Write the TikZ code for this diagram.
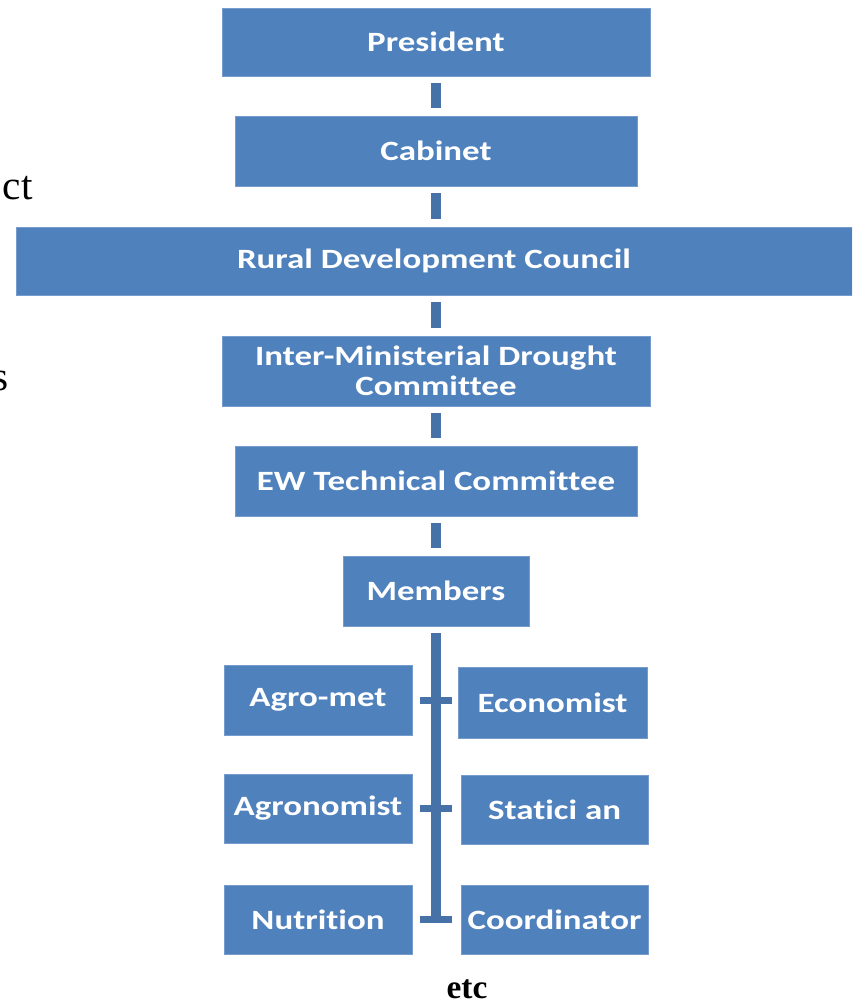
\documentclass[tikz,border=0pt]{standalone}
\usepackage{fontspec}
\usepackage{xcolor}
\usepackage{tikz}
\usetikzlibrary{positioning,calc}
\newfontfamily\boxfont{Carlito}[FakeStretch=1.25, Ligatures={NoCommon}]
\newfontfamily\pagefont{Liberation Serif}
\definecolor{OrgBlue}{RGB}{79,129,189}
\definecolor{OrgEdge}{RGB}{118,156,206}
\definecolor{LinkBlue}{RGB}{70,114,168}
\tikzset{
    orgbox/.style={rectangle, fill=OrgBlue, draw=OrgEdge, line width=0.4pt, text=white, align=center, inner sep=0pt,
        font=\boxfont\bfseries\fontsize{15.9}{17}\selectfont},
    link/.style={draw=LinkBlue, line width=0.2cm, line cap=butt},
    tick/.style={draw=LinkBlue, line width=0.14cm, line cap=butt}
}

\begin{document}
\begin{tikzpicture}[
                x=0.02cm, y=-0.02cm,
                % Chữ của trang bị cắt (nền serif)
                pagetext/.style={
                    inner sep=0pt,
                    font=\pagefont\fontsize{23.5}{26}\selectfont
                },
                % Nhãn cuối trang
                etclabel/.style={
                    inner sep=0pt,
                    font=\pagefont\bfseries\fontsize{19}{22}\selectfont
                }
            ]
                \useasboundingbox (0,0) rectangle (852,1003);
                \clip (0,0) rectangle (852,1003);

                % --- CHỮ BỊ CẮT BÊN TRÁI ---
                \node[pagetext, anchor=base east] (frag1) at (33,200) {ct};
                \node[pagetext, anchor=base east] (frag2) at (9,390) {s};

                % --- CÁC CẤP ---
                \node[orgbox, minimum width=8.56cm, minimum height=1.36cm] (pres) at (436,42) {President};
                \node[orgbox, minimum width=8.04cm, minimum height=1.40cm] (cab) at (436,151) {Cabinet};
                \node[orgbox, minimum width=16.72cm, minimum height=1.36cm] (rdc) at (434,261) {Rural Development Council};
                \node[orgbox, minimum width=8.56cm, minimum height=1.40cm] (imdc) at (436,371) {Inter-Ministerial Drought\\Committee};
                \node[orgbox, minimum width=8.04cm, minimum height=1.40cm] (ewtc) at (436,481) {EW Technical Committee};
                \node[orgbox, minimum width=3.72cm, minimum height=1.40cm] (mem) at (436,591) {Members};

                % --- THÀNH VIÊN ---
                \node[orgbox, minimum width=3.76cm, minimum height=1.40cm] (agro) at (318,700) {Agro-met};
                \node[orgbox, minimum width=3.78cm, minimum height=1.42cm] (econ) at (552.5,702.5) {Economist};
                \node[orgbox, minimum width=3.76cm, minimum height=1.38cm] (agron) at (318,808.5) {Agronomist};
                \node[orgbox, minimum width=3.74cm, minimum height=1.38cm] (stat) at (554.5,809.5) {Statici an};
                \node[orgbox, minimum width=3.76cm, minimum height=1.38cm] (nutr) at (318,919.5) {Nutrition};
                \node[orgbox, minimum width=3.74cm, minimum height=1.38cm] (coord) at (554.5,919.5) {Coordinator};

                \node[etclabel, anchor=base] (etc) at (467,998) {etc};

                % --- ĐƯỜNG NỐI ---
                \draw[link, shorten <=0.14cm, shorten >=0.16cm] (pres) -- (cab);
                \draw[link, shorten <=0.14cm, shorten >=0.16cm] (cab) -- (rdc.north -| cab.south);
                \draw[link, shorten <=0.14cm, shorten >=0.16cm] (rdc.south -| cab.south) -- (imdc);
                \draw[link, shorten <=0.14cm, shorten >=0.16cm] (imdc) -- (ewtc);
                \draw[link, shorten <=0.14cm, shorten >=0.16cm] (ewtc) -- (mem);
                \draw[link, shorten <=0.14cm] (mem.south) -- (mem.south |- nutr.east);
                \draw[tick, shorten <=0.16cm, shorten >=0.12cm] (agro.east) -- (agro.east -| econ.west);
                \draw[tick, shorten <=0.16cm, shorten >=0.18cm] (agron.east) -- (agron.east -| stat.west);
                \draw[tick, shorten <=0.16cm, shorten >=0.18cm] (nutr.east) -- (nutr.east -| coord.west);

            \end{tikzpicture}
\end{document}
